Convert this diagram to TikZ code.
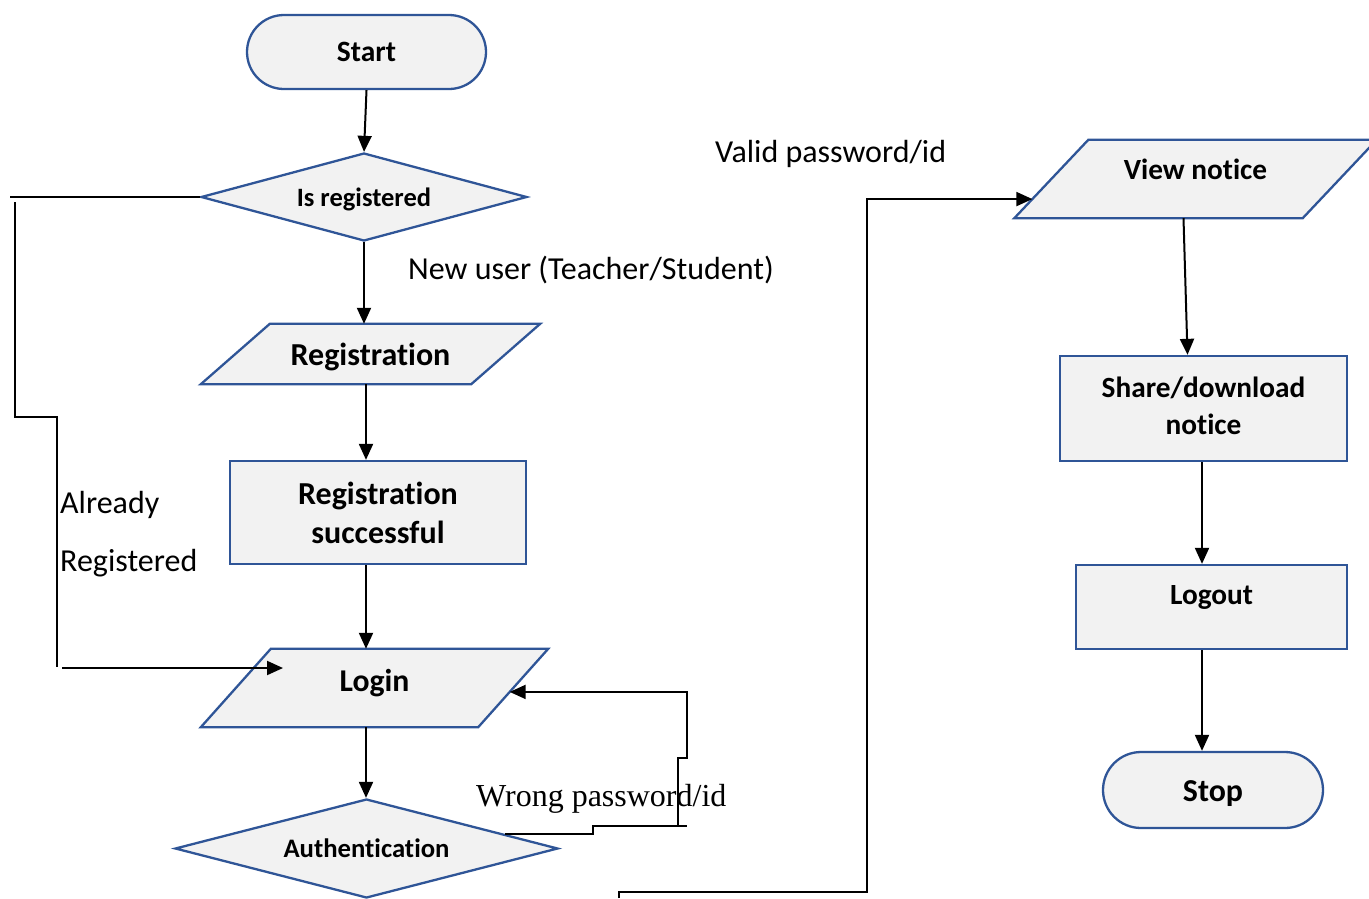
\documentclass[tikz,border=0pt]{standalone}
\usepackage{fontspec}
\setmainfont{Carlito}[Ligatures=NoCommon]
\newfontfamily\serifface{Liberation Serif}
\usetikzlibrary{shapes.geometric,arrows.meta,calc,backgrounds}
\definecolor{flowblue}{HTML}{2F5597}
\definecolor{flowfill}{HTML}{F2F2F2}

\begin{document}
\begin{tikzpicture}[x=1pt,y=-1pt,
  shapebase/.style={draw=flowblue, fill=flowfill, line width=2.3pt, inner sep=0pt, align=center},
  fsize/.style={font=\bfseries\fontsize{#1}{#1}\selectfont},
  terminal/.style={shapebase, rectangle, rounded corners=37pt},
  process/.style={shapebase, rectangle},
  decision/.style={shapebase, diamond},
  iobox/.style={rectangle, inner sep=0pt, align=center},
  ioface/.style={draw=flowblue, fill=flowfill, line width=2.3pt, line join=miter},
  conn/.style={line width=2pt, black},
  arr/.style={conn, -{Triangle[length=16pt,width=14pt]}},
  lbl/.style={inner sep=0pt, anchor=base west, font=\fontsize{32}{38}\selectfont},
]
\clip (0,0) rectangle (1369,898);

% axes of the two vertical chains
\coordinate (spine) at (366,0);
\coordinate (rspine) at (1202,0);

% left column
\node[terminal, fsize=29.5, minimum width=239pt, minimum height=74pt] (start) at (366.5,52)
  {Start};
\node[decision, fsize=26.5, text height=19pt, text depth=0pt, aspect=3.7,
      minimum width=326pt, minimum height=88pt] (isreg) at (364,197)
  {Is registered};
\node[iobox, fsize=32, text height=22.6pt, text depth=0pt,
      minimum width=270pt, minimum height=60pt] (reg) at (370.5,354)
  {Registration};
\node[process, font=\bfseries\fontsize{32}{39}\selectfont, minimum width=296pt, minimum height=103pt] (regok) at (378,512.5)
  {Registration\\successful};
\node[iobox, fsize=31.7, text height=14pt, text depth=7.6pt,
      minimum width=277pt, minimum height=78pt] (login) at (374.5,688)
  {Login};
\node[decision, fsize=26.7, aspect=3.87, minimum width=383pt, minimum height=99pt] (auth) at (366.5,848.5)
  {Authentication};

% right column
\node[iobox, fsize=29.3, text height=11pt, text depth=10pt,
      minimum width=288pt, minimum height=78pt] (view) at (1195.5,179)
  {View notice};
\node[process, font=\bfseries\fontsize{29.3}{37}\selectfont, minimum width=287pt, minimum height=105pt] (share) at (1203.5,408.5)
  {\raisebox{4pt}{\begin{tabular}{@{}c@{}}Share/download\\notice\end{tabular}}};
\node[process, fsize=29.3, text height=9pt, text depth=14pt,
      minimum width=271pt, minimum height=84pt] (logout) at (1211.5,607)
  {Logout};
\node[terminal, fsize=31.9, text height=22.6pt, text depth=0pt, rounded corners=38pt,
      minimum width=220pt, minimum height=76pt] (stop) at (1213,790)
  {Stop};

% slanted corners of the input/output boxes
\coordinate (reg-tl) at ([xshift=34.5pt]reg.north west);
\coordinate (reg-tr) at ([xshift=34.5pt]reg.north east);
\coordinate (reg-br) at ([xshift=-34.5pt]reg.south east);
\coordinate (reg-bl) at ([xshift=-34.5pt]reg.south west);
\coordinate (login-tl) at ([xshift=35pt]login.north west);
\coordinate (login-tr) at ([xshift=35pt]login.north east);
\coordinate (login-br) at ([xshift=-35pt]login.south east);
\coordinate (login-bl) at ([xshift=-35pt]login.south west);
\coordinate (view-tl) at ([xshift=37pt]view.north west);
\coordinate (view-tr) at ([xshift=37pt]view.north east);
\coordinate (view-br) at ([xshift=-37pt]view.south east);
\coordinate (view-bl) at ([xshift=-37pt]view.south west);
\begin{scope}[on background layer]
  \draw[ioface] (reg-tl) -- (reg-tr) -- (reg-br) -- (reg-bl) -- cycle;
  \draw[ioface] (login-tl) -- (login-tr) -- (login-br) -- (login-bl) -- cycle;
  \draw[ioface] (view-tl) -- (view-tr) -- (view-br) -- (view-bl) -- cycle;
\end{scope}

% labels
\node[lbl] (lvalid) at (715,162) {Valid password/id};
\node[lbl] (lnew) at (408,279) {New user (Teacher/Student)};
\node[lbl] (lalready) at (60,513) {Already};
\node[lbl] (lregd) at (60,571) {Registered};
\node[lbl, font=\serifface\fontsize{32}{38}\selectfont] (lwrong) at (476,806) {Wrong password/id};

% main flow
\draw[arr] (start.south) -- (isreg.north);
\draw[arr] (isreg.south) -- (reg.north -| isreg.south);
\draw[arr] (reg.south -| spine) -- (regok.north -| spine);
\draw[arr] (regok.south -| spine) -- (login.north -| spine);
\draw[arr] (login.south -| spine) -- (auth.north -| spine);

\draw[arr] ([xshift=-12pt]view.south) -- ([xshift=-16pt]share.north);
\draw[arr] (share.south -| rspine) -- (logout.north -| rspine);
\draw[arr] (logout.south -| rspine) -- (stop.north -| rspine);

% already registered: back to login
\coordinate (ar1) at (10,197);
\coordinate (ar2) at (15,202);
\coordinate (ar3) at (57,417);
\coordinate (ar4) at (57,667);
\coordinate (ar5) at (62,668);
\coordinate (ar6) at ($(login.center)+(-91.5,-20)$);
\draw[conn] (isreg.west) -- (ar1);
\draw[conn] (ar2) |- (ar3) -- (ar4);
\draw[arr] (ar5) -- (ar6);

% wrong password: back to login
\coordinate (wp0) at ($(auth.north)!0.72!(auth.east)$);
\coordinate (wp1) at (593,826);
\coordinate (wp2) at (687,826);
\coordinate (wp3) at (678,826);
\coordinate (wp4) at (687,758);
\coordinate (wpin) at ($(login-tr)!0.55!(login-br)$);
\draw[conn] (wp0) -| (wp1) -- (wp2);
\draw[arr] (wp3) |- (wp4) |- (wpin);

% valid password: on to view notice
\coordinate (vp0) at (619,898);
\coordinate (vp1) at (867,892);
\coordinate (vpin) at ($(view-bl)!0.244!(view-tl)$);
\draw[arr] (vp0) |- (vp1) |- (vpin);
\end{tikzpicture}
\end{document}
